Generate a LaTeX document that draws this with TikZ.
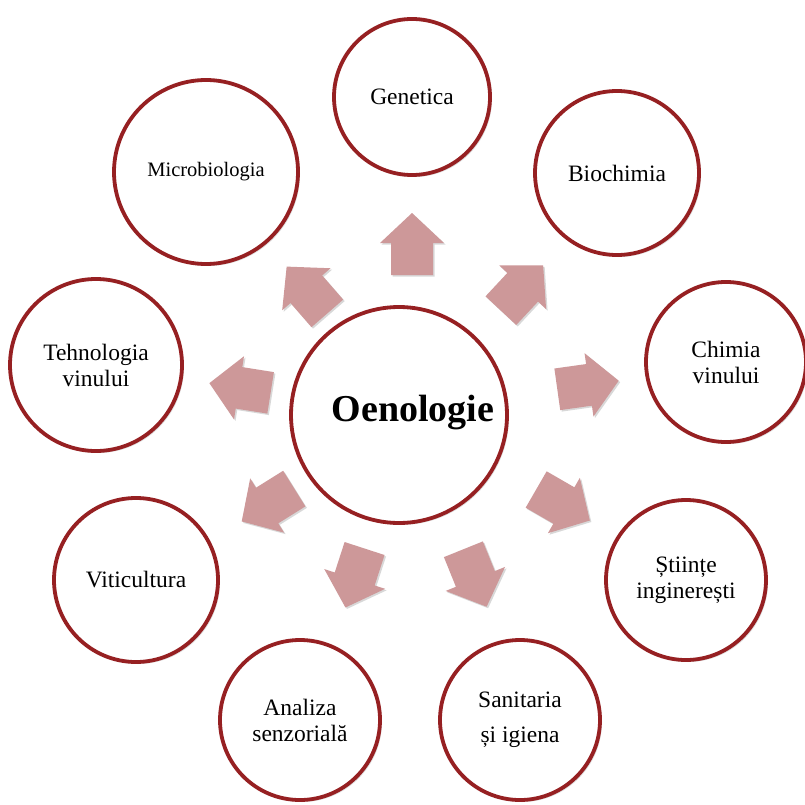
\documentclass[tikz,border=0pt]{standalone}
\usepackage{fontspec}
\setmainfont{Liberation Serif}
\usetikzlibrary{shadows}
\definecolor{ringred}{RGB}{150,32,34}
\definecolor{arrowpink}{RGB}{205,152,153}
\newcommand{\blkarrow}[3]{%
  \draw[blkarrowstyle, shift={(#1,#2)}, rotate=#3]
    (-31,-21) -- (1,-21) -- (1,-32) -- (31,0) -- (1,32) -- (1,21) -- (-31,21) -- cycle;}
\begin{document}
\begin{tikzpicture}[x=1pt,y=-1pt,
  topic/.style={circle, draw=ringred, line width=3.8pt, fill=white, inner sep=0pt,
    align=center, font=\fontsize{23.5}{26}\selectfont,
    drop shadow={shadow xshift=2pt, shadow yshift=-2pt, opacity=0.25}},
  blkarrowstyle/.style={fill=arrowpink, draw=none,
    drop shadow={shadow xshift=1.5pt, shadow yshift=-1.5pt, opacity=0.3}}]
\useasboundingbox[fill=white] (0,0) rectangle (805,805);
% arrows
\blkarrow{412}{244}{90}
\blkarrow{522}{288}{47}
\blkarrow{588}{385}{8}
\blkarrow{563}{505}{-30}
\blkarrow{475}{578}{-68}
\blkarrow{355}{578}{-108}
\blkarrow{268}{505}{-148}
\blkarrow{240}{388}{171}
\blkarrow{307}{290}{131}
% circles
\node[topic, minimum size=216pt] (main) at (399,415) {};
\node[font=\fontsize{38}{40}\selectfont\bfseries] (mainlabel) at (413,413) {Oenologie};
\node[topic, minimum size=156pt] (gen) at (412,97) {Genetica};
\node[topic, minimum size=164pt] (bio) at (617,173) {Biochimia};
\node[topic, minimum size=160pt] (chim) at (726,362) {Chimia\\vinului};
\node[topic, minimum size=160pt] (sti) at (686,580) {Științe\\inginerești};
\node[topic, minimum size=160pt, font=\fontsize{23.5}{35}\selectfont] (san) at (520,720) {Sanitaria\\și igiena};
\node[topic, minimum size=160pt] (ana) at (300,720) {Analiza\\senzorială};
\node[topic, minimum size=164pt] (vit) at (136,580) {Viticultura};
\node[topic, minimum size=172pt] (teh) at (96,365) {Tehnologia\\vinului};
\node[topic, minimum size=184pt, font=\fontsize{20.5}{24}\selectfont] (mic) at (206,172) {Microbiologia};
\end{tikzpicture}
\end{document}
